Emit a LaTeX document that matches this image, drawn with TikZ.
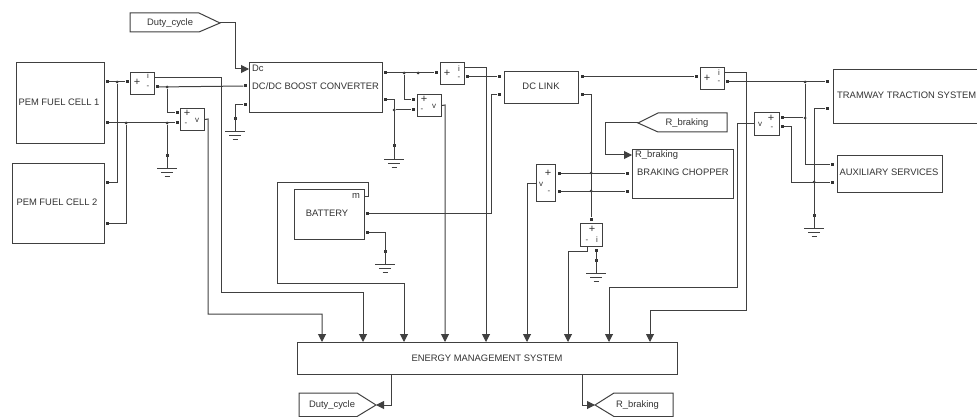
\documentclass[tikz,border=0pt]{standalone}
\usepackage{fontspec}
\setmainfont{Liberation Sans}
\usetikzlibrary{arrows.meta}

\definecolor{wirecol}{gray}{0.25}
\definecolor{textcol}{gray}{0.2}

\tikzset{
    wire/.style={draw=wirecol, line width=1pt},
    feed/.style={wire, -{Triangle[length=8pt,width=8pt]}},
    block/.style={draw=wirecol, line width=1pt, fill=white, inner sep=0pt, anchor=north west},
    portdot/.style={fill=black!80, draw=none, minimum size=3pt, inner sep=0pt},
    joint/.style={circle, fill=black!80, draw=none, minimum size=3pt, inner sep=0pt},
    blocktext/.style={font=\fontsize{9.4}{9.4}\selectfont, text=textcol, inner sep=0pt},
    sign/.style={font=\fontsize{8}{8}\selectfont, text=textcol, inner sep=0pt},
    plus/.style={font=\fontsize{11}{11}\selectfont, text=black!80, inner sep=0pt}
}

\begin{document}
\begin{tikzpicture}[x=1pt,y=-1pt]
            \useasboundingbox (0,0) rectangle (977,417);

            % blocks
            \node[block, minimum width=88pt, minimum height=81pt] (fcOne) at (16,62) {};
            \node[blocktext] at (59,102) {PEM FUEL CELL 1};
            \node[block, minimum width=92pt, minimum height=80pt] (fcTwo) at (12,163) {};
            \node[blocktext] at (57,202) {PEM FUEL CELL 2};
            \node[block, minimum width=133pt, minimum height=50pt] (boost) at (249,62) {};
            \node[blocktext, anchor=west] at (252,86) {DC/DC BOOST CONVERTER};
            \node[blocktext, anchor=west] at (252,68.5) {Dc};
            \node[block, minimum width=70pt, minimum height=50pt] (batt) at (294,189) {};
            \node[blocktext] at (327,213) {BATTERY};
            \node[blocktext] at (356,196) {m};
            \node[block, minimum width=74pt, minimum height=32pt] (link) at (504,71) {};
            \node[blocktext] at (541,86) {DC LINK};
            \node[block, minimum width=101pt, minimum height=49pt] (chop) at (632,149) {};
            \node[blocktext, anchor=west] at (635,155) {R\_braking};
            \node[blocktext, anchor=west] at (637,172.5) {BRAKING CHOPPER};
            \node[block, minimum width=144pt, minimum height=54pt] (tram) at (833,69) {};
            \node[blocktext, anchor=west] at (837,95) {TRAMWAY TRACTION SYSTEM};
            \node[block, minimum width=105pt, minimum height=37pt] (aux) at (837,155) {};
            \node[blocktext] at (889,172.5) {AUXILIARY SERVICES};
            \node[block, minimum width=380pt, minimum height=32pt] (ems) at (297,342) {};
            \node[blocktext] at (487,358) {ENERGY MANAGEMENT SYSTEM};

            % sensors
            \node[block, minimum width=24pt, minimum height=22pt] (iOne) at (130,72) {};
            \node[block, minimum width=24pt, minimum height=22pt] (vOne) at (180,108) {};
            \node[block, minimum width=24pt, minimum height=22pt] (iTwo) at (440,62) {};
            \node[block, minimum width=24pt, minimum height=22pt] (vTwo) at (417,94) {};
            \node[block, minimum width=19pt, minimum height=37pt] (vChop) at (536,164) {};
            \node[block, minimum width=22pt, minimum height=23pt] (iChop) at (580,223) {};
            \node[block, minimum width=24pt, minimum height=22pt] (iTram) at (700,67) {};
            \node[block, minimum width=25pt, minimum height=23pt] (vTram) at (754,112) {};

            \node[plus] at (137,82) {+};
            \node[sign] at (148,76) {i};
            \node[sign] at (148,87) {-};
            \node[plus] at (187,113.5) {+};
            \node[sign] at (186,124) {-};
            \node[sign] at (197,120) {v};
            \node[plus] at (447,73) {+};
            \node[sign] at (459,69) {i};
            \node[sign] at (459,78) {-};
            \node[plus] at (424,99.5) {+};
            \node[sign] at (422,110) {-};
            \node[sign] at (434,106) {v};
            \node[plus] at (548,173) {+};
            \node[sign] at (541,184) {v};
            \node[sign] at (549,192) {-};
            \node[plus] at (592,229) {+};
            \node[sign] at (587,241) {-};
            \node[sign] at (597,240) {i};
            \node[plus] at (707,78) {+};
            \node[sign] at (719,73) {i};
            \node[sign] at (719,82) {-};
            \node[sign] at (760,124) {v};
            \node[plus] at (771,118) {+};
            \node[sign] at (772,128) {-};

            % ports
            \foreach \pname/\px/\py in {fcOneA/107/82, fcOneB/107/123, fcTwoA/107/182, fcTwoB/107/223,
                iOneP/127/82, iOneQ/157/87, vOneP/177/113, vOneM/177/123,
                boostA/245/86, boostB/245/105, boostC/385/73, boostD/385/100,
                iTwoP/436/73, iTwoQ/467/77, vTwoP/413/100, vTwoM/413/110,
                battA/367/213, battB/367/232, linkA/499/77, linkB/499/95, linkC/582/77, linkD/582/95,
                vChopP/559/173, vChopM/559/191, chopA/627/173, chopB/627/191,
                iChopP/591/219, iChopQ/596/250, iTramP/696/77, iTramQ/727/82,
                vTramP/782/118, vTramM/782/127, tramA/827/82, tramB/827/109, auxA/832/164, auxB/832/182}
                {\node[portdot] (\pname) at (\px,\py) {};}

            % grounds
            \foreach \gname/\gx/\gy in {gndA/167/168.5, gndB/235/132, gndC/394/159, gndD/385/264, gndE/596/273, gndF/814/228}
                {\coordinate (\gname) at (\gx,\gy);
                 \node[portdot] at (\gx,\gy-13) {};
                 \draw[wire] (\gx-10,\gy) -- (\gx+10,\gy);
                 \draw[wire] (\gx-6,\gy+4) -- (\gx+6,\gy+4);
                 \draw[wire] (\gx-2.5,\gy+8) -- (\gx+2.5,\gy+8);}

            % inputs of the energy management block
            \foreach \n/\ex in {1/322, 2/363, 3/404, 4/445, 5/486, 6/527, 7/568, 8/609, 9/650}
                {\coordinate (in\n) at (\ex,342);}

            % free ends on the block edges
            \coordinate (boostDc) at (249,69);
            \coordinate (chopR) at (632,155);
            \coordinate (iOneOut) at (154,78);
            \coordinate (iTwoOut) at (464,68);
            \coordinate (iTramOut) at (724,73);
            \coordinate (iChopOut) at (587,246);
            \coordinate (battOut) at (364,196);
            \coordinate (emsDuty) at (391,374);
            \coordinate (emsBrake) at (582,374);

            % junctions
            \foreach \jname/\jx/\jy in {jA/117/82, jB/126/123, jC/167/87, jD/167/123, jE/404/73, jF/394/110,
                jG/418/73, jH/591/173, jI/591/191, jJ/805/82, jK/805/118, jL/814/182}
                {\node[joint] (\jname) at (\jx,\jy) {};}

            % signal tags
            \coordinate (dutyTip) at (220,23);
            \coordinate (brakeTip) at (638,123);
            \coordinate (dutyEnd) at (376,405);
            \coordinate (brakeEnd) at (595,405);
            \draw[block] (130,13) -- (199,13) -- (dutyTip) -- (199,32) -- (130,32) -- cycle;
            \node[blocktext] (dutyIn) at (170,23) {Duty\_cycle};
            \draw[block] (727,113) -- (658,113) -- (brakeTip) -- (658,132) -- (727,132) -- cycle;
            \node[blocktext] (brakeIn) at (687,123) {R\_braking};
            \draw[block] (299,393) -- (357,393) -- (dutyEnd) -- (357,416.5) -- (299,416.5) -- cycle;
            \node[blocktext] (dutyOut) at (332,405) {Duty\_cycle};
            \draw[block] (673,393) -- (614,393) -- (brakeEnd) -- (614,416.5) -- (673,416.5) -- cycle;
            \node[blocktext] (brakeOut) at (637.5,405) {R\_braking};

            % fuel cells
            \draw[wire] (fcOneA) -- (iOneP);
            \draw[wire] (fcOneB) -- (vOneM);
            \draw[wire] (jA) |- (fcTwoA);
            \draw[wire] (jB) |- (fcTwoB);
            \draw[wire] (iOneQ) -- (boostA);
            \draw[wire] (jC) |- (vOneP);
            \draw[wire] (jD) -- (gndA);

            % boost converter
            \draw[feed] (dutyTip) -| (235,69) -- (boostDc);
            \draw[wire] (boostB) -| (gndB);
            \draw[wire] (boostC) -- (iTwoP);
            \draw[wire] (jE) |- (vTwoP);
            \draw[wire] (boostD) -| (gndC);
            \draw[wire] (jF) -- (vTwoM);
            \draw[wire] (iTwoQ) -- (linkA);

            % battery
            \draw[wire] (battA) -| (491,95) -- (linkB);
            \draw[wire] (battB) -| (gndD);

            % dc link and chopper
            \draw[wire] (linkC) -- (iTramP);
            \draw[wire] (linkD) -| (iChopP);
            \draw[wire] (vChopP) -- (chopA);
            \draw[wire] (vChopM) -- (chopB);
            \draw[wire] (iChopQ) -- (gndE);
            \draw[feed] (brakeTip) -| (605,155) -- (chopR);

            % traction side
            \draw[wire] (iTramQ) -- (tramA);
            \draw[wire] (jJ) |- (auxA);
            \draw[wire] (jK) -- (vTramP);
            \draw[wire] (vTramM) -| (791,182) -- (auxB);
            \draw[wire] (tramB) -| (gndF);

            % measurements
            \draw[feed] (iOneOut) -| (221,292) -| (in2);
            \draw[feed] (vOne.east) -- (208,119) |- (322,314) -- (in1);
            \draw[feed] (battOut) -| (368,182) -| (277,283) -| (in3);
            \draw[feed] (vTwo.east) -- (445,105) -- (in4);
            \draw[feed] (iTwoOut) -| (in5);
            \draw[feed] (vChop.west) -| (in6);
            \draw[feed] (iChopOut) |- (568,251) -- (in7);
            \draw[feed] (vTram.west) -| (737,287) -| (in8);
            \draw[feed] (iTramOut) -| (746,310) -| (in9);

            \draw[feed] (emsDuty) |- (dutyEnd);
            \draw[feed] (emsBrake) |- (brakeEnd);
        \end{tikzpicture}
\end{document}
